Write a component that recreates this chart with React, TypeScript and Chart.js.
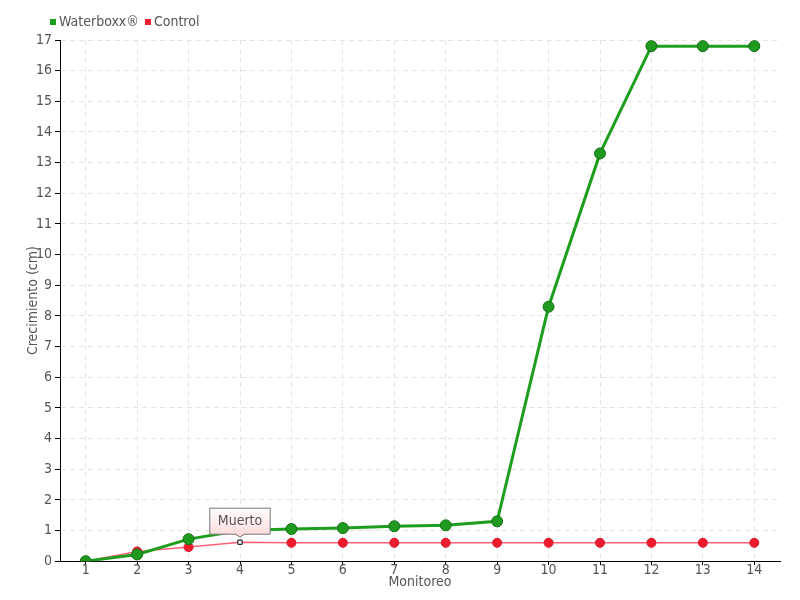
import React, { useEffect, useRef } from "react";
import { Chart, registerables } from "chart.js";

Chart.register(...registerables);

const categories = ["1", "2", "3", "4", "5", "6", "7", "8", "9", "10", "11", "12", "13", "14"];
const waterboxx = [0, 0.22, 0.72, 1.0, 1.05, 1.08, 1.14, 1.17, 1.3, 8.3, 13.3, 16.8, 16.8, 16.8];
const control = [0, 0.32, 0.46, 0.62, 0.6, 0.6, 0.6, 0.6, 0.6, 0.6, 0.6, 0.6, 0.6, 0.6];
const seriesNames = ["Waterboxx®", "Control"];
const calloutText = "Muerto";
const calloutIndex = 3;

const FONT = "'DejaVu Sans Condensed', 'Liberation Sans Narrow', 'DejaVu Sans', sans-serif";
const GREEN = "#1e9e1e";
const RED = "#ee1c2e";

const legendPlugin = {
  id: "customLegend",
  afterDraw(chart: any) {
    const ctx = chart.ctx;
    ctx.save();
    ctx.font = `14px ${FONT}`;
    ctx.textBaseline = "middle";
    let x = 50;
    const y = 22;
    const colors = [GREEN, RED];
    seriesNames.forEach((name, i) => {
      ctx.fillStyle = colors[i];
      ctx.fillRect(x, y - 3, 6, 6);
      x += 9;
      ctx.fillStyle = "#555";
      ctx.fillText(name, x, y);
      x += ctx.measureText(name).width + 6;
    });
    ctx.restore();
  },
};

const calloutPlugin = {
  id: "callout",
  afterDatasetsDraw(chart: any) {
    const meta = chart.getDatasetMeta(1);
    const pt = meta.data[calloutIndex];
    if (!pt) return;
    const ctx = chart.ctx;
    ctx.save();
    ctx.font = `14px ${FONT}`;
    const tw = ctx.measureText(calloutText).width;
    const w = tw + 16;
    const h = 26;
    const px = pt.x;
    const tipY = pt.y - 6;
    const bottom = tipY - 2;
    const top = bottom - h;
    const left = px - w / 2;
    const g = ctx.createLinearGradient(0, top, 0, bottom);
    g.addColorStop(0, "#ffffff");
    g.addColorStop(1, "#fcdcdc");
    ctx.beginPath();
    ctx.moveTo(left, top);
    ctx.lineTo(left + w, top);
    ctx.lineTo(left + w, bottom);
    ctx.lineTo(px + 4, bottom);
    ctx.lineTo(px, tipY + 1);
    ctx.lineTo(px - 4, bottom);
    ctx.lineTo(left, bottom);
    ctx.closePath();
    ctx.fillStyle = g;
    ctx.fill();
    ctx.strokeStyle = "#777";
    ctx.lineWidth = 1;
    ctx.stroke();
    ctx.fillStyle = "#555";
    ctx.textAlign = "center";
    ctx.textBaseline = "middle";
    ctx.fillText(calloutText, px, top + h / 2);
    ctx.restore();
  },
};

export default function App() {
  const ref = useRef<HTMLCanvasElement>(null);
  useEffect(() => {
    if (!ref.current) return;
    const ctrlStyles = control.map((_, i) => (i === calloutIndex ? "rect" : "circle"));
    const ctrlBg = control.map((_, i) => (i === calloutIndex ? "#ffffff" : RED));
    const ctrlBorder = control.map((_, i) => (i === calloutIndex ? "#000000" : "#d81828"));
    const ctrlRadius = control.map((_, i) => (i === calloutIndex ? 3 : 4.5));
    const chart = new Chart(ref.current, {
      type: "line",
      data: {
        labels: categories,
        datasets: [
          {
            label: seriesNames[0],
            data: waterboxx,
            borderColor: GREEN,
            backgroundColor: GREEN,
            borderWidth: 3,
            pointRadius: 5.5,
            pointBackgroundColor: "#1f9a1f",
            pointBorderColor: "#157015",
            pointBorderWidth: 1,
            tension: 0,
          },
          {
            label: seriesNames[1],
            data: control,
            borderColor: "#ff6078",
            backgroundColor: RED,
            borderWidth: 1.5,
            pointStyle: ctrlStyles as any,
            pointRadius: ctrlRadius as any,
            pointBackgroundColor: ctrlBg,
            pointBorderColor: ctrlBorder,
            pointBorderWidth: 1,
            tension: 0,
          },
        ],
      },
      options: {
        responsive: false,
        animation: false,
        layout: { padding: { top: 40, right: 20, bottom: 9, left: 0 } },
        plugins: {
          legend: { display: false },
          tooltip: { enabled: false },
        },
        scales: {
          x: {
            offset: true,
            grid: {
              offset: false,
              color: "#e4e4e4",
              tickColor: "#000",
              tickLength: 4,
              lineWidth: 1,
            },
            border: { color: "#000", width: 1, dash: [5, 4] },
            ticks: {
              color: "#555",
              font: { family: FONT, size: 14, lineHeight: 1.0 },
              padding: -2,
              maxRotation: 0,
            },
            title: {
              display: true,
              text: "Monitoreo",
              color: "#555",
              font: { family: FONT, size: 14, lineHeight: 1.2 },
              padding: { top: -1, bottom: 0 },
            },
          },
          y: {
            min: 0,
            max: 17,
            afterFit(scale: any) {
              scale.width = 60;
            },
            grid: {
              color: "#e4e4e4",
              tickColor: "#000",
              tickLength: 5,
              lineWidth: 1,
            },
            border: { color: "#000", width: 1, dash: [5, 4] },
            ticks: {
              stepSize: 1,
              color: "#555",
              font: { family: FONT, size: 14 },
              padding: 3,
            },
            title: {
              display: true,
              text: "Crecimiento (cm)",
              color: "#555",
              font: { family: FONT, size: 14 },
              padding: { top: 25, bottom: 0 },
            },
          },
        },
      },
      plugins: [legendPlugin, calloutPlugin],
    });
    return () => chart.destroy();
  }, []);
  return (
    <div style={{ position: "absolute", left: 0, top: 0, width: 800, height: 600, background: "#fff" }}>
      <canvas ref={ref} width={800} height={600} />
    </div>
  );
}
